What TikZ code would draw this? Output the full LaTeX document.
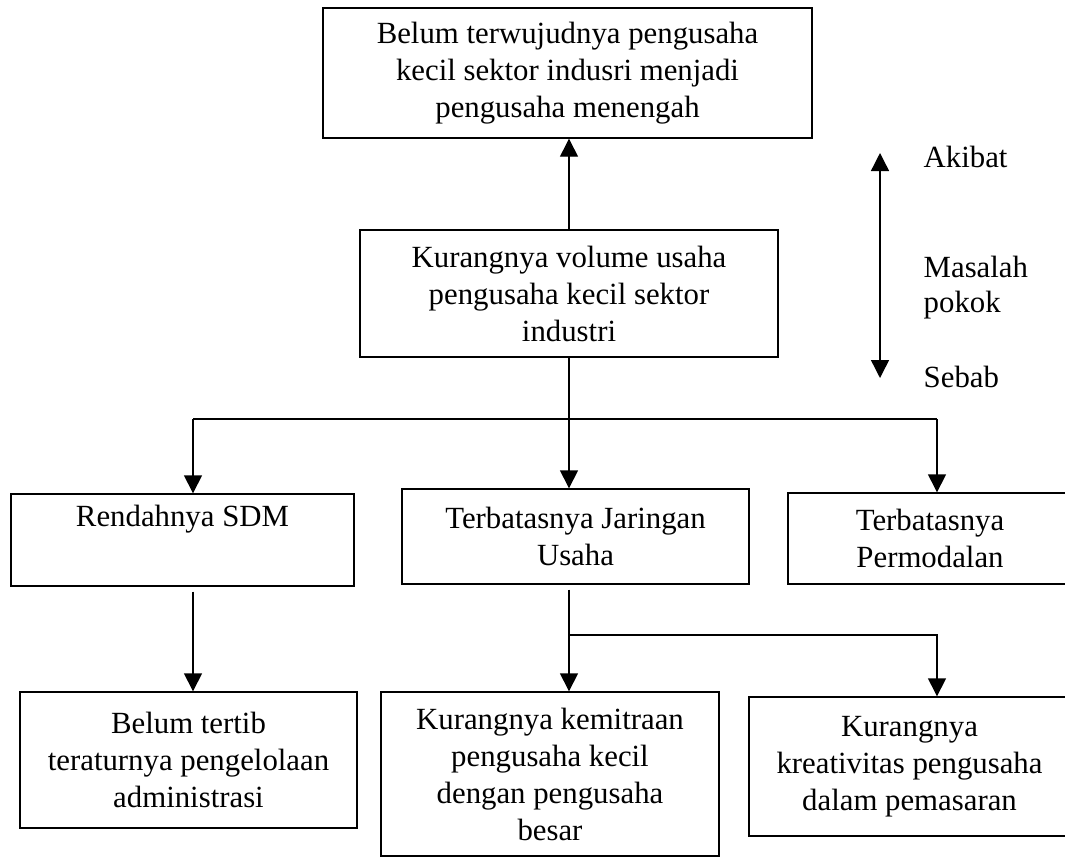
\documentclass[tikz,border=0pt]{standalone}
\usepackage{fontspec}
\setmainfont{Liberation Serif}
\usepackage{tikz}
\usetikzlibrary{arrows.meta}

\begin{document}
\begin{tikzpicture}[x=0.5pt, y=-0.5pt, line width=0.7pt,
  >={Triangle[length=9pt, width=9pt]},
  box/.style={draw, align=center, inner sep=0pt, font=\fontsize{15.4}{18.5}\selectfont},
  lbl/.style={inner sep=0pt, align=left, font=\fontsize{15.4}{17.5}\selectfont}]
\clip (0, 0) rectangle (1065, 859);

\node[box, minimum width=244.5pt, minimum height=65pt] (top) at (567.5, 73)
  {Belum terwujudnya pengusaha\\kecil sektor indusri menjadi\\pengusaha menengah};
\node[box, minimum width=209pt, minimum height=63.5pt] (mid) at (569, 293.5)
  {Kurangnya volume usaha\\pengusaha kecil sektor\\industri};
\node[box, minimum width=171.5pt, minimum height=46pt] (sdm) at (182.5, 540)
  {Rendahnya SDM\\\strut};
\node[box, minimum width=173.5pt, minimum height=47.5pt] (jar) at (575.5, 536.5)
  {Terbatasnya Jaringan\\Usaha};
\node[box, minimum width=142pt, minimum height=45.5pt] (mod) at (930, 538.5)
  {Terbatasnya\\Permodalan};
\node[box, minimum width=168.5pt, minimum height=68pt] (adm) at (188.5, 760)
  {Belum tertib\\teraturnya pengelolaan\\administrasi};
\node[box, minimum width=169pt, minimum height=82pt] (mitra) at (550, 774)
  {Kurangnya kemitraan\\pengusaha kecil\\dengan pengusaha\\besar};
\node[box, minimum width=160.5pt, minimum height=69.5pt] (kreatif) at (909.5, 766.5)
  {Kurangnya\\kreativitas pengusaha\\dalam pemasaran};

\coordinate (busL) at (193, 419);
\coordinate (busR) at (937, 419);
\coordinate (busM) at (mid.south |- busL);
\coordinate (fork) at (569, 635);
\coordinate (akibat) at (880, 153);
\coordinate (sebab) at (880, 378);

\draw[->] (mid.north) -- (mid.north |- top.south);
\draw (mid.south) -- (busM);
\draw (busL) -- (busR);
\draw[->] (busL) -- (busL |- sdm.north);
\draw[->] (busM) -- (busM |- jar.north);
\draw[->] (busR) -- (busR |- mod.north);
\draw[->, shorten <=2.5pt] (busL |- sdm.south) -- (busL |- adm.north);
\draw[->, shorten <=2.5pt] (busM |- jar.south) -- (busM |- mitra.north);
\draw[->] (busM |- fork) -| (busR |- kreatif.north);

\draw[<->] (akibat) -- (sebab);
\node[lbl, anchor=base west] (lakibat) at (923, 167) {Akibat};
\node[lbl, anchor=base west] (lmasalah) at (923, 312) {Masalah\\pokok};
\node[lbl, anchor=base west] (lsebab) at (923, 387) {Sebab};
\end{tikzpicture}
\end{document}
